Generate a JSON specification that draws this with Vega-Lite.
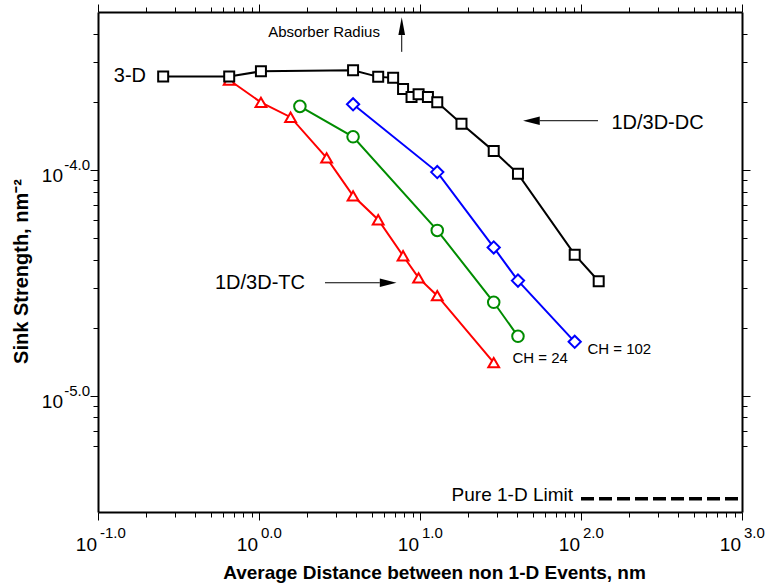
{
  "$schema": "https://vega.github.io/schema/vega-lite/v6.json",
  "autosize": {"type": "none"},
  "padding": {"left": 98, "top": 12, "right": 25, "bottom": 74},
  "width": 644,
  "height": 500,
  "background": "white",
  "config": {
    "view": {"stroke": null},
    "font": "Liberation Sans",
    "axis": {"labels": false, "grid": false, "domainColor": "black", "tickColor": "black", "title": null}
  },
  "datasets": {
    "series": [
      {"series": "TC", "x": 0.653, "y": 2.50e-4},
      {"series": "TC", "x": 1.028, "y": 1.99e-4},
      {"series": "TC", "x": 1.571, "y": 1.71e-4},
      {"series": "TC", "x": 2.63, "y": 1.13e-4},
      {"series": "TC", "x": 3.84, "y": 7.67e-5},
      {"series": "TC", "x": 5.5, "y": 6.01e-5},
      {"series": "TC", "x": 7.85, "y": 4.16e-5},
      {"series": "TC", "x": 9.8, "y": 3.32e-5},
      {"series": "TC", "x": 12.8, "y": 2.77e-5},
      {"series": "TC", "x": 28.7, "y": 1.40e-5},
      {"series": "CH24", "x": 1.795, "y": 1.91e-4},
      {"series": "CH24", "x": 3.84, "y": 1.40e-4},
      {"series": "CH24", "x": 12.8, "y": 5.39e-5},
      {"series": "CH24", "x": 28.7, "y": 2.59e-5},
      {"series": "CH24", "x": 40.6, "y": 1.83e-5},
      {"series": "CH102", "x": 3.84, "y": 1.95e-4},
      {"series": "CH102", "x": 12.8, "y": 9.77e-5},
      {"series": "CH102", "x": 28.7, "y": 4.53e-5},
      {"series": "CH102", "x": 40.6, "y": 3.23e-5},
      {"series": "CH102", "x": 91.4, "y": 1.73e-5},
      {"series": "DC", "x": 0.254, "y": 2.59e-4},
      {"series": "DC", "x": 0.653, "y": 2.59e-4},
      {"series": "DC", "x": 1.028, "y": 2.73e-4},
      {"series": "DC", "x": 3.84, "y": 2.76e-4},
      {"series": "DC", "x": 5.5, "y": 2.58e-4},
      {"series": "DC", "x": 6.81, "y": 2.56e-4},
      {"series": "DC", "x": 7.85, "y": 2.28e-4},
      {"series": "DC", "x": 8.86, "y": 2.10e-4},
      {"series": "DC", "x": 9.8, "y": 2.16e-4},
      {"series": "DC", "x": 11.2, "y": 2.10e-4},
      {"series": "DC", "x": 12.8, "y": 1.99e-4},
      {"series": "DC", "x": 18.1, "y": 1.60e-4},
      {"series": "DC", "x": 28.7, "y": 1.21e-4},
      {"series": "DC", "x": 40.6, "y": 9.60e-5},
      {"series": "DC", "x": 91.4, "y": 4.21e-5},
      {"series": "DC", "x": 128.8, "y": 3.21e-5}
    ]
  },
  "layer": [
    {
      "data": {"name": "series"},
      "mark": {"type": "line", "strokeWidth": 2},
      "encoding": {
        "x": {"field": "x", "type": "quantitative",
          "scale": {"type": "log", "domain": [0.1, 1000], "nice": false},
          "axis": {"orient": "bottom", "values": [0.1, 1, 10, 100, 1000], "tickSize": 8, "tickWidth": 1, "domainWidth": 2,
            "title": "Average Distance between non 1-D Events, nm", "titleFontSize": 19, "titleFontWeight": "bold", "titleColor": "black",
            "titleX": 336, "titleY": 66, "titleAlign": "center", "titleBaseline": "alphabetic", "titleAngle": 0}},
        "y": {"field": "y", "type": "quantitative",
          "scale": {"type": "log", "domain": [3.05e-6, 5e-4], "nice": false},
          "axis": {"orient": "left", "values": [1e-5, 1e-4], "tickSize": 8, "tickWidth": 1, "domainWidth": 2,
            "title": "Sink Strength, nm\u207b\u00b2", "titleFontSize": 20, "titleFontWeight": "bold", "titleColor": "black",
            "titleX": -71, "titleY": 259, "titleAlign": "center", "titleBaseline": "alphabetic", "titleAngle": 270}},
        "color": {"field": "series", "type": "nominal",
          "scale": {"domain": ["DC", "TC", "CH24", "CH102"], "range": ["black", "#ff0000", "#008c00", "#0000ff"]}, "legend": null}
      }
    },
    {
      "data": {"name": "series"},
      "mark": {"type": "point", "filled": true, "fill": "white", "strokeWidth": 2, "opacity": 1},
      "encoding": {
        "x": {"field": "x", "type": "quantitative",
          "scale": {"type": "log", "domain": [0.1, 1000], "nice": false},
          "axis": {"orient": "bottom", "values": [0.2, 0.3, 0.4, 0.5, 0.6, 0.7, 0.8, 0.9, 2, 3, 4, 5, 6, 7, 8, 9, 20, 30, 40, 50, 60, 70, 80, 90, 200, 300, 400, 500, 600, 700, 800, 900], "tickSize": 5, "tickWidth": 1, "domain": false}},
        "y": {"field": "y", "type": "quantitative",
          "scale": {"type": "log", "domain": [3.05e-6, 5e-4], "nice": false},
          "axis": {"orient": "left", "values": [6e-6, 7e-6, 8e-6, 9e-6, 2e-5, 3e-5, 4e-5, 5e-5, 6e-5, 7e-5, 8e-5, 9e-5, 2e-4, 3e-4, 4e-4], "tickSize": 5, "tickWidth": 1, "domain": false}},
        "stroke": {"field": "series", "type": "nominal",
          "scale": {"domain": ["DC", "TC", "CH24", "CH102"], "range": ["black", "#ff0000", "#008c00", "#0000ff"]}, "legend": null},
        "shape": {"field": "series", "type": "nominal",
          "scale": {"domain": ["DC", "TC", "CH24", "CH102"], "range": ["square", "triangle-up", "circle", "diamond"]}, "legend": null},
        "size": {"field": "series", "type": "ordinal",
          "scale": {"domain": ["DC", "TC", "CH24", "CH102"], "range": [100, 150, 85, 130]}, "legend": null}
      }
    },
    {
      "data": {"values": [{"x": 100, "x2": 1000, "y": 3.49e-6}]},
      "mark": {"type": "rule", "strokeWidth": 3.5, "strokeDash": [13, 5], "color": "black"},
      "encoding": {
        "x": {"field": "x", "type": "quantitative",
          "scale": {"type": "log", "domain": [0.1, 1000], "nice": false},
          "axis": {"orient": "top", "values": [0.1, 1, 10, 100, 1000], "tickSize": 8, "tickWidth": 1, "domainWidth": 2}},
        "x2": {"field": "x2"},
        "y": {"field": "y", "type": "quantitative",
          "scale": {"type": "log", "domain": [3.05e-6, 5e-4], "nice": false},
          "axis": {"orient": "right", "values": [1e-5, 1e-4], "tickSize": 8, "tickWidth": 1, "domainWidth": 2}}
      }
    },
    {
      "data": {"values": [
        {"x": 7.7, "x2": 7.7, "y": 3.33e-4, "y2": 3.95e-4},
        {"x": 55.4, "x2": 127.5, "y": 1.65e-4, "y2": 1.65e-4},
        {"x": 2.57, "x2": 5.63, "y": 3.16e-5, "y2": 3.16e-5}
      ]},
      "mark": {"type": "rule", "strokeWidth": 1, "color": "black"},
      "encoding": {
        "x": {"field": "x", "type": "quantitative",
          "scale": {"type": "log", "domain": [0.1, 1000], "nice": false},
          "axis": {"orient": "top", "values": [0.2, 0.3, 0.4, 0.5, 0.6, 0.7, 0.8, 0.9, 2, 3, 4, 5, 6, 7, 8, 9, 20, 30, 40, 50, 60, 70, 80, 90, 200, 300, 400, 500, 600, 700, 800, 900], "tickSize": 5, "tickWidth": 1, "domain": false}},
        "x2": {"field": "x2"},
        "y": {"field": "y", "type": "quantitative",
          "scale": {"type": "log", "domain": [3.05e-6, 5e-4], "nice": false},
          "axis": {"orient": "right", "values": [6e-6, 7e-6, 8e-6, 9e-6, 2e-5, 3e-5, 4e-5, 5e-5, 6e-5, 7e-5, 8e-5, 9e-5, 2e-4, 3e-4, 4e-4], "tickSize": 5, "tickWidth": 1, "domain": false}},
        "y2": {"field": "y2"}
      }
    },
    {
      "data": {"values": [{"x": 7.7, "y": 4.33e-4}]},
      "mark": {"type": "point", "filled": true, "color": "black", "opacity": 1, "size": 313, "shape": "M0,-1L0.38,1L-0.38,1Z"},
      "encoding": {
        "x": {"field": "x", "type": "quantitative", "scale": {"type": "log", "domain": [0.1, 1000], "nice": false}, "axis": null},
        "y": {"field": "y", "type": "quantitative", "scale": {"type": "log", "domain": [3.05e-6, 5e-4], "nice": false}, "axis": null}
      }
    },
    {
      "data": {"values": [{"x": 49.2, "y": 1.65e-4}]},
      "mark": {"type": "point", "filled": true, "color": "black", "opacity": 1, "size": 279, "shape": "M-1,0L1,-0.5L1,0.5Z"},
      "encoding": {
        "x": {"field": "x", "type": "quantitative", "scale": {"type": "log", "domain": [0.1, 1000], "nice": false}, "axis": null},
        "y": {"field": "y", "type": "quantitative", "scale": {"type": "log", "domain": [3.05e-6, 5e-4], "nice": false}, "axis": null}
      }
    },
    {
      "data": {"values": [{"x": 6.34, "y": 3.16e-5}]},
      "mark": {"type": "point", "filled": true, "color": "black", "opacity": 1, "size": 279, "shape": "M1,0L-1,-0.5L-1,0.5Z"},
      "encoding": {
        "x": {"field": "x", "type": "quantitative", "scale": {"type": "log", "domain": [0.1, 1000], "nice": false}, "axis": null},
        "y": {"field": "y", "type": "quantitative", "scale": {"type": "log", "domain": [3.05e-6, 5e-4], "nice": false}, "axis": null}
      }
    },
    {
      "data": {"values": [{"text": "3-D", "x": 0.1987, "y": 2.59e-4}, {"text": "1D/3D-TC", "x": 1.93, "y": 3.16e-5}]},
      "mark": {"type": "text", "align": "right", "baseline": "middle", "fontSize": 20, "color": "black"},
      "encoding": {
        "x": {"field": "x", "type": "quantitative", "scale": {"type": "log", "domain": [0.1, 1000], "nice": false}, "axis": null},
        "y": {"field": "y", "type": "quantitative", "scale": {"type": "log", "domain": [3.05e-6, 5e-4], "nice": false}, "axis": null},
        "text": {"field": "text"}
      }
    },
    {
      "data": {"values": [{"text": "1D/3D-DC", "x": 154.5, "y": 1.62e-4}]},
      "mark": {"type": "text", "align": "left", "baseline": "middle", "fontSize": 20, "color": "black"},
      "encoding": {
        "x": {"field": "x", "type": "quantitative", "scale": {"type": "log", "domain": [0.1, 1000], "nice": false}, "axis": null},
        "y": {"field": "y", "type": "quantitative", "scale": {"type": "log", "domain": [3.05e-6, 5e-4], "nice": false}, "axis": null},
        "text": {"field": "text"}
      }
    },
    {
      "data": {"values": [{"text": "CH = 24", "x": 37.5, "y": 1.47e-5}, {"text": "CH = 102", "x": 109.6, "y": 1.61e-5}, {"text": "Absorber Radius", "x": 1.14, "y": 4.06e-4}]},
      "mark": {"type": "text", "align": "left", "baseline": "middle", "fontSize": 15, "color": "black"},
      "encoding": {
        "x": {"field": "x", "type": "quantitative", "scale": {"type": "log", "domain": [0.1, 1000], "nice": false}, "axis": null},
        "y": {"field": "y", "type": "quantitative", "scale": {"type": "log", "domain": [3.05e-6, 5e-4], "nice": false}, "axis": null},
        "text": {"field": "text"}
      }
    },
    {
      "data": {"values": [{"text": "Pure 1-D Limit", "x": 89.2, "y": 3.49e-6}]},
      "mark": {"type": "text", "align": "right", "baseline": "alphabetic", "dy": 2, "fontSize": 19, "color": "black"},
      "encoding": {
        "x": {"field": "x", "type": "quantitative", "scale": {"type": "log", "domain": [0.1, 1000], "nice": false}, "axis": null},
        "y": {"field": "y", "type": "quantitative", "scale": {"type": "log", "domain": [3.05e-6, 5e-4], "nice": false}, "axis": null},
        "text": {"field": "text"}
      }
    },
    {
      "data": {"values": [{"x": 0.1, "e": "-1.0"}, {"x": 1, "e": "0.0"}, {"x": 10, "e": "1.0"}, {"x": 100, "e": "2.0"}, {"x": 1000, "e": "3.0"}]},
      "mark": {"type": "text", "align": "right", "baseline": "middle", "dx": -1, "dy": 33, "fontSize": 19, "color": "black"},
      "encoding": {
        "x": {"field": "x", "type": "quantitative", "scale": {"type": "log", "domain": [0.1, 1000], "nice": false}, "axis": null},
        "y": {"datum": 3.05e-6, "type": "quantitative", "scale": {"type": "log", "domain": [3.05e-6, 5e-4], "nice": false}, "axis": null},
        "text": {"value": "10"}
      }
    },
    {
      "data": {"values": [{"x": 0.1, "e": "-1.0"}, {"x": 1, "e": "0.0"}, {"x": 10, "e": "1.0"}, {"x": 100, "e": "2.0"}, {"x": 1000, "e": "3.0"}]},
      "mark": {"type": "text", "align": "left", "baseline": "middle", "dx": 2, "dy": 21, "fontSize": 15, "color": "black"},
      "encoding": {
        "x": {"field": "x", "type": "quantitative", "scale": {"type": "log", "domain": [0.1, 1000], "nice": false}, "axis": null},
        "y": {"datum": 3.05e-6, "type": "quantitative", "scale": {"type": "log", "domain": [3.05e-6, 5e-4], "nice": false}, "axis": null},
        "text": {"field": "e"}
      }
    },
    {
      "data": {"values": [{"y": 1e-4, "e": "-4.0"}, {"y": 1e-5, "e": "-5.0"}]},
      "mark": {"type": "text", "align": "right", "baseline": "middle", "dx": -35, "dy": 6, "fontSize": 19, "color": "black"},
      "encoding": {
        "x": {"datum": 0.1, "type": "quantitative", "scale": {"type": "log", "domain": [0.1, 1000], "nice": false}, "axis": null},
        "y": {"field": "y", "type": "quantitative", "scale": {"type": "log", "domain": [3.05e-6, 5e-4], "nice": false}, "axis": null},
        "text": {"value": "10"}
      }
    },
    {
      "data": {"values": [{"y": 1e-4, "e": "-4.0"}, {"y": 1e-5, "e": "-5.0"}]},
      "mark": {"type": "text", "align": "right", "baseline": "middle", "dx": -8, "dy": -5, "fontSize": 15, "color": "black"},
      "encoding": {
        "x": {"datum": 0.1, "type": "quantitative", "scale": {"type": "log", "domain": [0.1, 1000], "nice": false}, "axis": null},
        "y": {"field": "y", "type": "quantitative", "scale": {"type": "log", "domain": [3.05e-6, 5e-4], "nice": false}, "axis": null},
        "text": {"field": "e"}
      }
    }
  ],
  "resolve": {"axis": {"x": "independent", "y": "independent"}}
}
